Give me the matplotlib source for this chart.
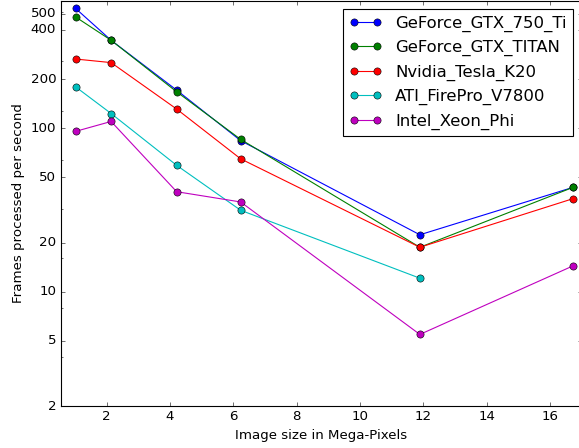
import numpy as np
import matplotlib
matplotlib.use("Agg")
import matplotlib.pyplot as plt
from matplotlib.ticker import FixedLocator, NullFormatter

# image size (mega-pixels) and frames per second per device
sizes = [1.02, 2.14, 4.21, 6.23, 11.89, 16.73]

gtx750 = [540, 345, 171, 84, 22.3, 43.5]
titan = [479, 345, 167, 85.5, 18.7, 43.5]
k20 = [265, 252, 131, 65, 18.7, 37.1]
firepro = [179, 123, 59.3, 31.5, 12.1]
xeon = [95.7, 110, 40.9, 35.4, 5.48, 14.4]

series = [
    ("GeForce_GTX_750_Ti", gtx750, "b"),
    ("GeForce_GTX_TITAN", titan, "g"),
    ("Nvidia_Tesla_K20", k20, "r"),
    ("ATI_FirePro_V7800", firepro, "c"),
    ("Intel_Xeon_Phi", xeon, "m"),
]

yticks = [2, 5, 10, 20, 50, 100, 200, 400, 500]
xticks = [2, 4, 6, 8, 10, 12, 14, 16]

plt.style.use("classic")

fig = plt.figure(figsize=(579 / 80, 448 / 80), dpi=80)
fig.patch.set_facecolor("white")
ax = fig.add_axes([0.1048, 0.09375, 0.8998, 0.904])

for name, values, color in series:
    ax.plot(sizes[:len(values)], values, "o-", color=color,
            markersize=6.5, label=name)

ax.set_yscale("log")
ax.set_ylim(2, 600)
ax.set_xlim(0.547, 17)

ax.set_yticks(yticks)
ax.set_yticklabels([str(t) for t in yticks])
ax.yaxis.set_minor_locator(FixedLocator(2.0 ** np.arange(1, 10)))
ax.yaxis.set_minor_formatter(NullFormatter())
ax.set_xticks(xticks)

ax.set_xlabel("Image size in Mega-Pixels")
ax.set_ylabel("Frames processed per second")

ax.legend(loc="upper right", fontsize=14.8, numpoints=2)

fig.savefig("out.png", dpi=80, facecolor="white")
